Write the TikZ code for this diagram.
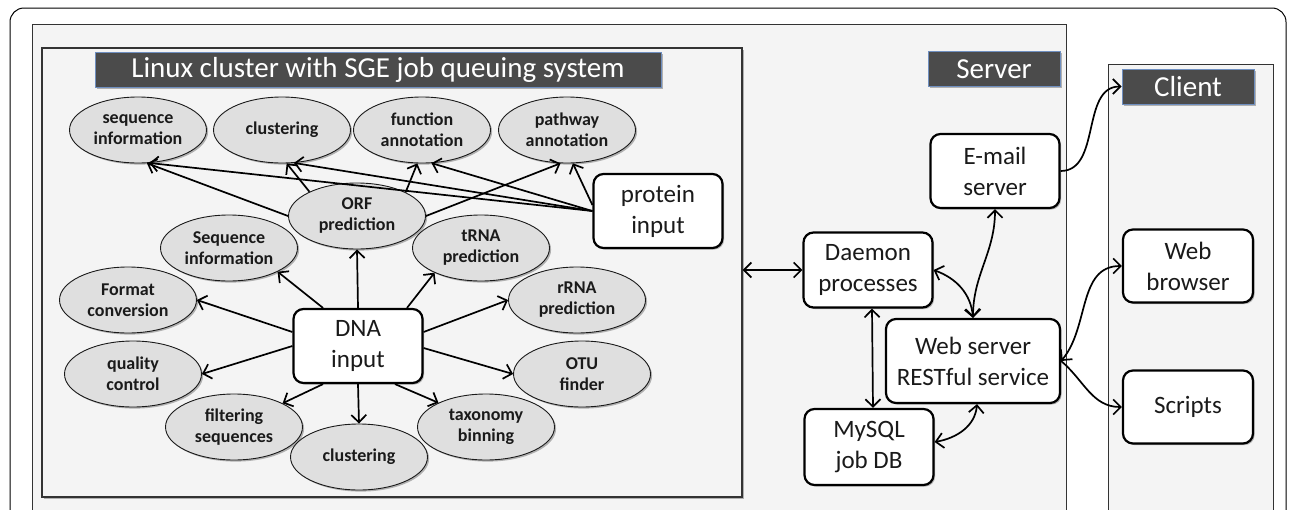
\documentclass[tikz,border=0pt]{standalone}
\usepackage{fontspec}
\setmainfont{Carlito}
\usetikzlibrary{arrows.meta,shapes.geometric,shadows}
\definecolor{panel}{HTML}{F4F4F4}
\definecolor{ellfill}{HTML}{DFDFDF}
\definecolor{titlefill}{HTML}{4B4B4B}
\definecolor{titleedge}{HTML}{6F8FC0}
\definecolor{ink}{HTML}{1A1A1A}
\begin{document}
\begin{tikzpicture}[x=1pt,y=1pt,
  shd/.style={drop shadow={shadow xshift=1.6pt,shadow yshift=-1.6pt,opacity=0.28,fill=black}},
  proc/.style={ellipse,draw=ink,line width=0.9pt,fill=ellfill,minimum width=137pt,minimum height=66pt,
    inner sep=0pt,align=center,font=\fontsize{18}{21}\selectfont\bfseries,text=ink,shd},
  box/.style={rectangle,rounded corners=10pt,draw=black,line width=2.2pt,fill=white,minimum width=129pt,
    minimum height=74pt,inner sep=0pt,align=center,font=\fontsize{25}{31}\selectfont,text=ink,shd},
  ttl/.style={rectangle,draw=titleedge,line width=1pt,fill=titlefill,text=white,
    font=\fontsize{29}{34}\selectfont,inner sep=0pt,minimum height=35pt,shd},
  panelbox/.style={draw=black!80,line width=0.9pt,fill=panel},
  arr/.style={line width=1.7pt,draw=black},
  >={Straight Barb[length=7.5pt,width=15pt]}]
\useasboundingbox (0,0) rectangle (1290,-509);
\clip (0,0) rectangle (1290,-509);

% containers
\fill[white] (0,0) rectangle (1290,-509);
\draw[line width=1pt,rounded corners=14pt] (10,-8) rectangle (1286,-560);
\draw[panelbox] (32,-24) rectangle (1066,-560);
\draw[panelbox] (1108,-64) rectangle (1273,-560);
\node[panelbox,rectangle,line width=1.2pt,inner sep=0pt,minimum width=700pt,minimum height=449pt,shd] (cluster) at (392,-272.5) {};

% titles
\node[ttl,minimum width=566pt] (clusterT) at (378,-69.5) {Linux cluster with SGE job queuing system};
\node[ttl,minimum width=132pt] (serverT) at (994,-69) {Server};
\node[ttl,minimum width=132pt] (clientT) at (1188,-86.5) {Client};

% process ellipses
\node[proc] (seqA)  at (138,-130) {sequence\\information};
\node[proc] (clusA) at (282,-130) {clustering};
\node[proc] (func)  at (422,-130) {function\\annotation};
\node[proc] (path)  at (567,-130) {pathway\\annotation};
\node[proc] (orf)   at (357,-216) {ORF\\prediction};
\node[proc] (seqB)  at (229,-248) {Sequence\\information};
\node[proc] (trna)  at (481,-248) {tRNA\\prediction};
\node[proc] (fmt)   at (128,-300) {Format\\conversion};
\node[proc] (rrna)  at (577,-300) {rRNA\\prediction};
\node[proc] (qc)    at (133,-374) {quality\\control};
\node[proc] (otu)   at (582,-374) {OTU\\finder};
\node[proc] (filt)  at (234,-427) {filtering\\sequences};
\node[proc] (tax)   at (486,-427) {taxonomy\\binning};
\node[proc] (clusB) at (359,-457) {clustering};

% boxes
\node[box] (dna)    at (358,-346) {DNA\\input};
\node[box] (prot)   at (658,-211) {protein\\input};
\node[box,minimum height=75pt] (daemon) at (868,-270) {Daemon\\processes};
\node[box] (email)  at (995,-171) {E-mail\\server};
\node[box,minimum width=174pt,minimum height=84pt] (web) at (973,-361) {Web server\\RESTful service};
\node[box,minimum height=76pt] (mysql)  at (869,-447) {MySQL\\job DB};
\node[box,minimum width=130pt,minimum height=73pt] (browser) at (1188,-266) {Web\\browser};
\node[box,minimum width=130pt,minimum height=73pt] (scripts) at (1188,-407) {Scripts};

% connectors
\draw[arr,->] (orf.west) -- (seqA.-75);
\draw[arr,->] (prot.west) -- (seqA.-71);
\draw[arr,->] (orf.153) -- (clusA.-82);
\draw[arr,->] (prot.west) -- (clusA.-70);
\draw[arr,->] (orf.26) -- (func.-98);
\draw[arr,->] (prot.west) -- (func.-74);
\draw[arr,->] (orf.east) -- (path.-101);
\draw[arr,->] ([yshift=6pt]prot.west) -- (path.-80);

\draw[arr,->] (dna.north) -- (orf.south);
\draw[arr,->] ([xshift=-35pt]dna.north) -- (seqB.-26);
\draw[arr,->] ([xshift=49pt]dna.north) -- (trna.-152);
\draw[arr,->] ([yshift=14pt]dna.west) -- (fmt.east);
\draw[arr,->] (dna.west) -- (qc.east);
\draw[arr,->] ([xshift=-35pt]dna.south) -- (filt.26);
\draw[arr,->] (dna.south) -- (clusB.north);
\draw[arr,->] ([xshift=37pt]dna.south) -- (tax.153);
\draw[arr,->] ([yshift=-2pt]dna.east) -- (otu.west);
\draw[arr,->] ([yshift=14pt]dna.east) -- (rrna.west);

\draw[arr,<->] (cluster.east |- daemon.west) -- (daemon.west);
\draw[arr,<->] ([xshift=4pt]daemon.south) -- ([xshift=4pt]mysql.north);
\draw[arr,<->] (daemon.east) to[out=-20,in=95] (web.north);
\draw[arr,<->] (web.north) to[out=90,in=-90] (email.south);
\draw[arr,<->] ([yshift=5pt]mysql.east) to[out=10,in=-95] ([xshift=4pt]web.south);
\draw[arr,->] (email.east) to[out=0,in=180] (clientT.west);
\draw[arr,<->] (web.east) to[out=50,in=180] (browser.west);
\draw[arr,->] (web.east) to[out=-40,in=180] (scripts.west);
\end{tikzpicture}
\end{document}
